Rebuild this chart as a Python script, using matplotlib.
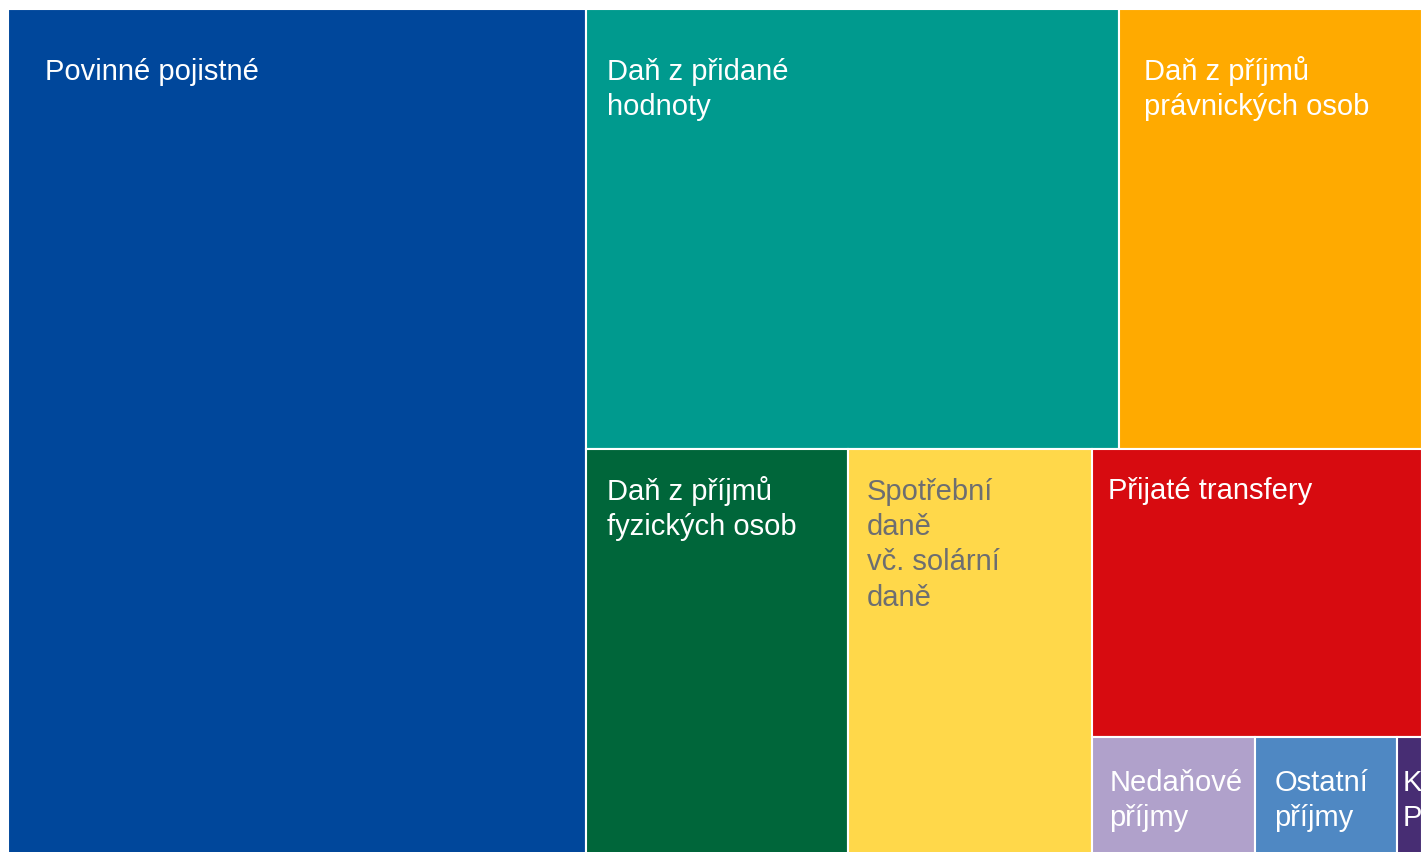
import matplotlib
matplotlib.use("Agg")
import matplotlib.pyplot as plt
from matplotlib.patches import Rectangle

# Příjmy (mld. Kč, odhad z obrázku)
kategorie = ["Povinné pojistné", "Daň z přidané\nhodnoty", "Daň z příjmů\nprávnických osob",
             "Daň z příjmů\nfyzických osob", "Spotřební\ndaně\nvč. solární\ndaně",
             "Přijaté transfery", "Nedaňové\npříjmy", "Ostatní\npříjmy", "K\nP"]
hodnoty = [817, 392, 223, 178, 166, 159, 32, 28, 5]

barvy = ["#00479B", "#009A8E", "#FFAA00", "#00663A", "#FFD84A",
         "#D70B10", "#B0A1CB", "#4F88C3", "#472D73"]
barvy_textu = ["white", "white", "white", "white", "#6D6E71",
               "white", "white", "white", "white"]
# odsazení popisku od levého horního rohu (px): x, účaří prvního řádku
odsaz_x = [37, 21, 25, 21, 19, 16, 17, 20, 6]
odsaz_y = [70, 70, 70, 50, 50, 49, 53, 53, 53]

# plocha grafu v px (spodní okraj mimo obrázek)
X0, Y0, X1, Y1 = 8, 10, 1422, 856
W, H = X1 - X0, Y1 - Y0


def worst(row, w):
    s = sum(row)
    return max(max(w * w * r / (s * s), (s * s) / (w * w * r)) for r in row)


def squarify(vals, x, y, dx, dy):
    # klasický squarified treemap (Bruls et al.)
    rects = []
    vals = list(vals)
    while vals:
        short = min(dx, dy)
        row = [vals[0]]
        i = 1
        while i < len(vals) and worst(row + [vals[i]], short) <= worst(row, short):
            row.append(vals[i])
            i += 1
        s = sum(row)
        if dx >= dy:
            w = s / dy
            yy = y
            for r in row:
                h = r / w
                rects.append((x, yy, w, h))
                yy += h
            x += w
            dx -= w
        else:
            h = s / dx
            xx = x
            for r in row:
                w = r / h
                rects.append((xx, y, w, h))
                xx += w
            y += h
            dy -= h
        vals = vals[i:]
    return rects


total = sum(hodnoty)
plochy = [v * W * H / total for v in hodnoty]
obdelniky = squarify(plochy, 0, 0, W, H)

fig = plt.figure(figsize=(14.21, 8.53), dpi=100)
ax = fig.add_axes([X0 / 1421, 1 - Y1 / 853, W / 1421, H / 853])
ax.set_xlim(0, W)
ax.set_ylim(H, 0)
ax.axis("off")

for (x, y, w, h), txt, c, tc, px, py in zip(obdelniky, kategorie, barvy, barvy_textu, odsaz_x, odsaz_y):
    rect = Rectangle((x, y), w, h, facecolor=c, edgecolor="white", linewidth=1.5, clip_on=False)
    ax.add_patch(rect)
    for k, radek in enumerate(txt.split("\n")):
        t = ax.text(x + px, y + py + k * 35.3, radek, color=tc, fontsize=21,
                    family=["Liberation Sans", "DejaVu Sans"], ha="left", va="baseline")
        t.set_clip_path(rect)

fig.savefig("out.png", dpi=100)
